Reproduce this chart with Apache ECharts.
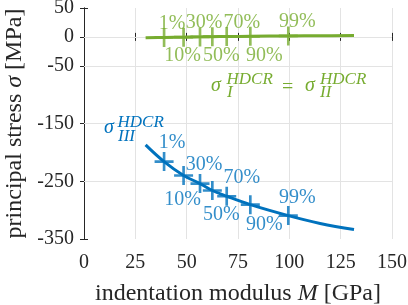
<!DOCTYPE html>
<html>
<head>
<meta charset="utf-8">
<script src="https://cdn.jsdelivr.net/npm/echarts@6/dist/echarts.min.js"></script>
<style>
  html, body { margin: 0; padding: 0; background: #fff; }
  #chart { width: 408px; height: 305px; }
</style>
</head>
<body>
<div id="chart"></div>
<script>
// percentile markers: indentation modulus M [GPa] and stresses [MPa]
const pctLabels = ['1%', '10%', '30%', '50%', '70%', '90%', '99%']
const pctM = [39, 48.5, 56.5, 62.5, 69.5, 81, 99.5]
const sigIIIAtPct = [-216, -240, -254, -266, -276, -290.5, -309.5]
const sigIAtPct = [-1, -0.5, 0, 0.3, 0.6, 1, 1.6]

// curves
const curveM = [30, 39, 48.5, 56.5, 62.5, 69.5, 81, 99.5, 115, 131.5]
const sigIIICurve = [-187, -216, -240, -254, -266, -276, -290.5, -309.5, -323, -333.5]
const sigICurve = [-1.5, -1, -0.5, 0, 0.3, 0.6, 1, 1.6, 2, 2.5]

const yTicks = [50, 0, -50, -150, -250, -350]
const yGrid = [0, -50, -150, -250]

const BLUE = '#0072BD'
const GREEN = '#77AC30'
const AX = '#262626'
const SERIF = 'Liberation Serif'

// label offsets from the marker (px)
const labelDx = [8, -1, 4, 9, 15, 14, 9]
const blueDy = [-19, 24, -19, 24, -19, 20, -18]
const greenDy = [-14, 19, -14, 19, -14, 19, -14]

const plus = 'path://M-1.4,-10L1.4,-10L1.4,-1.4L10,-1.4L10,1.4L1.4,1.4L1.4,10L-1.4,10L-1.4,1.4L-10,1.4L-10,-1.4L-1.4,-1.4Z'

function zip(xs, ys) {
  return xs.map((x, i) => [x, ys[i]])
}

function markers(ys, dy, color) {
  return pctM.map((m, i) => ({
    value: [m, ys[i]],
    label: {
      show: true,
      formatter: pctLabels[i],
      position: 'inside',
      offset: [labelDx[i], dy[i]],
      color: color,
      fontFamily: SERIF,
      fontSize: 20
    }
  }))
}

const chart = echarts.init(document.getElementById('chart'))

const xBase = {
  type: 'value', min: 0, max: 150, interval: 25,
  axisLine: { show: true, lineStyle: { color: AX, width: 1 } },
  axisTick: { show: true, inside: true, length: 4, lineStyle: { color: AX } }
}
const yBase = {
  type: 'value', min: -350, max: 50, interval: 50,
  axisLine: { show: true, lineStyle: { color: AX, width: 1 } },
  axisTick: { show: true, inside: true, length: 4, customValues: yTicks, lineStyle: { color: AX } },
  splitLine: { show: false }
}

function sigmaText(x, y, txt, size, italic, color) {
  return {
    type: 'text', x: x, y: y, z: 10,
    style: {
      text: txt,
      font: (italic ? 'italic ' : '') + size + 'px "Liberation Serif"',
      fill: color,
      textAlign: 'left',
      textVerticalAlign: 'middle'
    }
  }
}

const option = {
  animation: false,
  textStyle: { fontFamily: SERIF },
  grid: { left: 84, right: 16, top: 8, bottom: 66, outerBoundsMode: 'none' },
  xAxis: [
    Object.assign({}, xBase, {
      position: 'bottom',
      axisLabel: { color: AX, fontFamily: SERIF, fontSize: 20, margin: 14 },
      splitLine: { show: true, lineStyle: { color: '#e3e3e3', width: 1 } },
      name: 'indentation modulus {i|M} [GPa]',
      nameLocation: 'middle',
      nameGap: 43,
      nameTextStyle: {
        color: AX, fontFamily: SERIF, fontSize: 24,
        rich: { i: { fontStyle: 'italic', fontFamily: SERIF, fontSize: 24, color: AX } }
      }
    }),
    Object.assign({}, xBase, {
      position: 'top',
      axisLabel: { show: false },
      splitLine: { show: false }
    })
  ],
  yAxis: [
    Object.assign({}, yBase, {
      position: 'left',
      axisLabel: { color: AX, fontFamily: SERIF, fontSize: 20, margin: 10, customValues: yTicks },
      name: 'principal stress {i|σ} [MPa]',
      nameLocation: 'middle',
      nameGap: 53,
      nameTextStyle: {
        color: AX, fontFamily: SERIF, fontSize: 24,
        rich: { i: { fontStyle: 'italic', fontFamily: SERIF, fontSize: 24, color: AX } }
      }
    }),
    Object.assign({}, yBase, {
      position: 'right',
      axisLabel: { show: false }
    })
  ],
  series: [
    {
      // horizontal grid lines
      type: 'line', data: [], z: 1, silent: true,
      markLine: {
        z: 1, silent: true, symbol: 'none', label: { show: false },
        lineStyle: { color: '#e3e3e3', width: 1, type: 'solid' },
        data: yGrid.map(v => ({ yAxis: v }))
      }
    },
    {
      name: 'sigma III', type: 'line', smooth: 0.4, showSymbol: false, z: 3,
      data: zip(curveM, sigIIICurve),
      lineStyle: { color: BLUE, width: 3 }
    },
    {
      name: 'sigma I', type: 'line', smooth: 0.4, showSymbol: false, z: 3,
      data: zip(curveM, sigICurve),
      lineStyle: { color: GREEN, width: 3 }
    },
    {
      type: 'scatter', symbol: plus, symbolSize: 19, z: 4,
      itemStyle: { color: BLUE },
      data: markers(sigIIIAtPct, blueDy, BLUE)
    },
    {
      type: 'scatter', symbol: plus, symbolSize: 19, z: 4,
      itemStyle: { color: GREEN },
      data: markers(sigIAtPct, greenDy, GREEN)
    }
  ],
  graphic: [
    sigmaText(104, 128, 'σ', 20, true, BLUE),
    sigmaText(117.5, 122.5, 'HDCR', 17, true, BLUE),
    sigmaText(118, 137, 'III', 17, true, BLUE),
    sigmaText(211, 86, 'σ', 20, true, GREEN),
    sigmaText(226.5, 79.5, 'HDCR', 17, true, GREEN),
    sigmaText(227, 92.5, 'I', 17, true, GREEN),
    sigmaText(282, 88, '=', 20, false, GREEN),
    sigmaText(305, 86, 'σ', 20, true, GREEN),
    sigmaText(320, 79.5, 'HDCR', 17, true, GREEN),
    sigmaText(320, 92.5, 'II', 17, true, GREEN)
  ]
}

chart.setOption(option)
</script>
</body>
</html>
